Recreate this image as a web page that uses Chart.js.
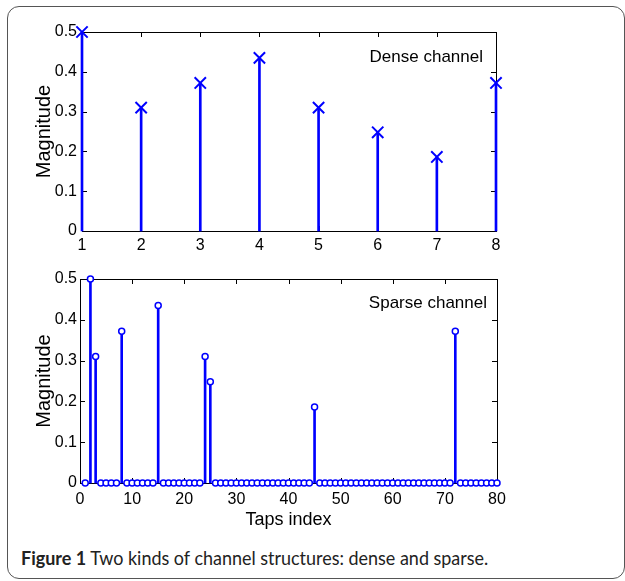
<!DOCTYPE html>
<html>
<head>
<meta charset="utf-8">
<script src="https://cdn.jsdelivr.net/npm/chart.js@4.4.0/dist/chart.umd.min.js"></script>
<style>
  html, body { margin: 0; padding: 0; background: #fff; }
  body { width: 625px; height: 581px; position: relative; overflow: hidden; }
  #frame {
    position: absolute; left: 7px; top: 6px; width: 618px; height: 573px;
    box-sizing: border-box; border: 1.5px solid #555; border-radius: 12px;
  }
  canvas { position: absolute; left: 0; }
  #densePlot { top: 0; }
  #sparsePlot { top: 260px; }
  #caption {
    position: absolute; left: 21px; top: 548px; line-height: 19px;
    font-family: Lato, "Open Sans", sans-serif; font-size: 19px; color: #222;
    white-space: nowrap; transform: scaleX(0.945); transform-origin: left center;
  }
  #caption b { font-weight: 700; }
</style>
</head>
<body>
<div id="frame"></div>
<canvas id="densePlot" width="625" height="260"></canvas>
<canvas id="sparsePlot" width="625" height="280"></canvas>
<div id="caption"><b>Figure 1</b> Two kinds of channel structures: dense and sparse.</div>

<script>
    // values
    const denseTaps = [1, 2, 3, 4, 5, 6, 7, 8];
    const denseMagnitude = [0.5, 0.31, 0.372, 0.435, 0.31, 0.248, 0.186, 0.372];

    const sparseTaps = [
        1, 2, 3, 4, 5, 6, 7, 8, 9, 10,
        11, 12, 13, 14, 15, 16, 17, 18, 19, 20,
        21, 22, 23, 24, 25, 26, 27, 28, 29, 30,
        31, 32, 33, 34, 35, 36, 37, 38, 39, 40,
        41, 42, 43, 44, 45, 46, 47, 48, 49, 50,
        51, 52, 53, 54, 55, 56, 57, 58, 59, 60,
        61, 62, 63, 64, 65, 66, 67, 68, 69, 70,
        71, 72, 73, 74, 75, 76, 77, 78, 79, 80
    ];
    const sparseMagnitude = [
        0, 0.5, 0.31, 0, 0, 0, 0, 0.372, 0, 0,
        0, 0, 0, 0, 0.435, 0, 0, 0, 0, 0,
        0, 0, 0, 0.31, 0.248, 0, 0, 0, 0, 0,
        0, 0, 0, 0, 0, 0, 0, 0, 0, 0,
        0, 0, 0, 0, 0.186, 0, 0, 0, 0, 0,
        0, 0, 0, 0, 0, 0, 0, 0, 0, 0,
        0, 0, 0, 0, 0, 0, 0, 0, 0, 0,
        0, 0.372, 0, 0, 0, 0, 0, 0, 0, 0
    ];

    const magnitudeTicks = [0, 0.1, 0.2, 0.3, 0.4, 0.5];
    const denseTapTicks = [1, 2, 3, 4, 5, 6, 7, 8];
    const sparseTapTicks = [0, 10, 20, 30, 40, 50, 60, 70, 80];

    const BLUE = '#0000ff';
    const FONT = "'Liberation Sans', Arial, Helvetica, sans-serif";

    // matlab style box: full frame plus inward tick marks, under the markers
    const matlabBox = {
        id: 'matlabBox',
        beforeDatasetsDraw(chart) {
            const {ctx, chartArea: a, scales: {x, y}} = chart;
            ctx.save();
            ctx.strokeStyle = '#000';
            ctx.lineWidth = 1;
            ctx.beginPath();
            x.ticks.forEach(t => {
                const px = Math.round(x.getPixelForValue(t.value)) + 0.5;
                ctx.moveTo(px, a.bottom); ctx.lineTo(px, a.bottom - 5);
                ctx.moveTo(px, a.top); ctx.lineTo(px, a.top + 5);
            });
            y.ticks.forEach(t => {
                const py = Math.round(y.getPixelForValue(t.value)) + 0.5;
                ctx.moveTo(a.left, py); ctx.lineTo(a.left + 5, py);
                ctx.moveTo(a.right, py); ctx.lineTo(a.right - 5, py);
            });
            ctx.stroke();
            ctx.strokeRect(Math.round(a.left) + 0.5, Math.round(a.top) + 0.5,
                Math.round(a.width), Math.round(a.height));
            ctx.restore();
        },
        afterDraw(chart, args, opts) {
            const {ctx, chartArea: a} = chart;
            ctx.save();
            ctx.font = '17px ' + FONT;
            ctx.fillStyle = '#000';
            ctx.textAlign = 'right';
            ctx.textBaseline = 'middle';
            ctx.fillText(opts.label, a.right - opts.dx, a.top + opts.dy);
            ctx.restore();
        }
    };

    function tickList(values) {
        return scale => { scale.ticks = values.map(v => ({value: v})); };
    }

    function stemChart(canvasId, cfg) {
        const points = cfg.taps.map((t, i) => ({x: t, y: cfg.values[i]}));
        return new Chart(document.getElementById(canvasId), {
            type: 'scatter',
            data: {
                datasets: [{
                    type: 'scatter',
                    data: points,
                    pointStyle: cfg.marker,
                    pointRadius: cfg.markerSize,
                    borderColor: BLUE,
                    backgroundColor: cfg.markerFill,
                    borderWidth: cfg.markerWidth,
                    showLine: false,
                    clip: false,
                    order: 0
                }, {
                    type: 'bar',
                    data: points,
                    backgroundColor: BLUE,
                    barThickness: 2,
                    clip: false,
                    order: 1
                }]
            },
            plugins: [matlabBox],
            options: {
                responsive: false,
                animation: false,
                events: [],
                layout: {padding: cfg.padding},
                plugins: {
                    legend: {display: false},
                    tooltip: {enabled: false},
                    matlabBox: {label: cfg.label, dx: cfg.labelDx, dy: cfg.labelDy}
                },
                scales: {
                    x: {
                        type: 'linear',
                        min: cfg.xMin,
                        max: cfg.xMax,
                        offset: false,
                        afterBuildTicks: tickList(cfg.xTicks),
                        afterFit: s => { s.height = cfg.xHeight; },
                        grid: {display: false, drawTicks: false},
                        border: {display: false},
                        ticks: {
                            color: '#000', font: {family: FONT, size: 16},
                            padding: cfg.xTickPad, maxRotation: 0, autoSkip: false
                        },
                        title: {
                            display: !!cfg.xTitle,
                            text: cfg.xTitle || '',
                            color: '#000',
                            font: {family: FONT, size: 18},
                            padding: {top: 0, bottom: 9}
                        }
                    },
                    y: {
                        min: 0,
                        max: 0.5,
                        afterBuildTicks: tickList(magnitudeTicks),
                        afterFit: s => { s.width = cfg.yWidth; },
                        grid: {display: false, drawTicks: false},
                        border: {display: false},
                        ticks: {
                            color: '#000', font: {family: FONT, size: 16},
                            padding: cfg.yTickPad,
                            callback: v => (v === 0 ? '0' : v.toFixed(1))
                        },
                        title: {
                            display: true,
                            text: 'Magnitude',
                            color: '#000',
                            font: {family: FONT, size: 20},
                            padding: {top: 32, bottom: 0}
                        }
                    }
                }
            }
        });
    }

    stemChart('densePlot', {
        taps: denseTaps, values: denseMagnitude,
        marker: 'crossRot', markerSize: 8, markerWidth: 2, markerFill: BLUE,
        xMin: 1, xMax: 8, xTicks: denseTapTicks,
        xHeight: 29, yWidth: 82, xTickPad: 5, yTickPad: 5,
        padding: {top: 32, right: 129, left: 0, bottom: 0},
        label: 'Dense channel', labelDx: 13, labelDy: 25
    });

    stemChart('sparsePlot', {
        taps: sparseTaps, values: sparseMagnitude,
        marker: 'circle', markerSize: 3, markerWidth: 1.5, markerFill: '#fff',
        xMin: 0, xMax: 80, xTicks: sparseTapTicks, xTitle: 'Taps index',
        xHeight: 57, yWidth: 80, xTickPad: 7, yTickPad: 3,
        padding: {top: 19, right: 128, left: 0, bottom: 0},
        label: 'Sparse channel', labelDx: 10, labelDy: 24
    });
</script>
</body>
</html>
